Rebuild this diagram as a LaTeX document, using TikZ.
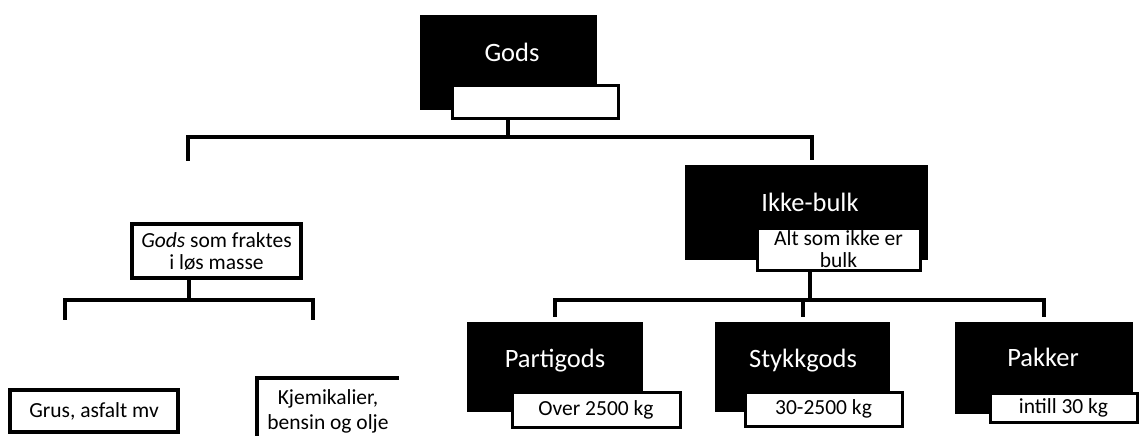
\documentclass[tikz,border=0pt]{standalone}
\usepackage{fontspec}
\setmainfont{Carlito}
\begin{document}
\begin{tikzpicture}[x=1pt,y=-1pt,
  conn/.style={line width=4pt, line cap=rect, line join=miter},
  blackbox/.style={fill=black, draw=none, inner sep=0pt},
  whitebox/.style={fill=white, draw=black, line width=3pt, inner sep=0pt, align=center, font=\fontsize{21.5}{22}\selectfont},
  bigtext/.style={text=white, inner sep=0pt, anchor=base, font=\fontsize{26.5}{28}\selectfont},
  plainbox/.style={draw=black, line width=3.5pt, inner sep=0pt, align=center, font=\fontsize{21.5}{22}\selectfont}
]
\useasboundingbox (0,0) rectangle (1145,436);
% top
\node[blackbox, minimum width=177pt, minimum height=95pt] (gods) at (508.5,62.5) {};
\node[bigtext] (godsT) at (512,62) {Gods};
\node[whitebox, minimum width=166pt, minimum height=33pt] (godsw) at (535,101.5) {};
% left branch
\node[plainbox, minimum width=169pt, minimum height=54pt] (loes) at (216.5,251) {\textit{Gods} som fraktes\\ i løs masse};
\node[plainbox, minimum width=168pt, minimum height=42pt] (grus) at (94,411) {Grus, asfalt mv};
\node[inner sep=0pt, align=center, font=\fontsize{21.5}{25}\selectfont] (kjem) at (328,411) {Kjemikalier,\\ bensin og olje};
\draw[line width=3.5pt] (257,445) |- (399,378);
% right branch
\node[blackbox, minimum width=243pt, minimum height=95pt] (ikke) at (806.5,212.5) {};
\node[bigtext] (ikkeT) at (810,211) {Ikke-bulk};
\node[whitebox, minimum width=163pt, minimum height=42pt] (ikkew) at (838.5,249) {Alt som ikke er\\ bulk};
% bottom row
\node[blackbox, minimum width=176pt, minimum height=90pt] (parti) at (555,367) {};
\node[bigtext] (partiT) at (555,367) {Partigods};
\node[whitebox, minimum width=168pt, minimum height=35pt] (partiw) at (596,409.5) {Over 2500 kg};
\node[blackbox, minimum width=175pt, minimum height=90pt] (stykk) at (802.5,367) {};
\node[bigtext] (stykkT) at (803,367) {Stykkgods};
\node[whitebox, minimum width=157pt, minimum height=34pt] (stykkw) at (823.5,409) {30-2500 kg};
\node[blackbox, minimum width=178pt, minimum height=92pt] (pakk) at (1044,368) {};
\node[bigtext] (pakkT) at (1043,366) {Pakker};
\node[whitebox, minimum width=147pt, minimum height=29pt] (pakkw) at (1063.5,407.5) {intill 30 kg};
% connectors top
\coordinate (tbar) at (508,137);
\coordinate (lend) at (188,159);
\coordinate (rend) at (812,158);
\draw[conn] (godsw.south -| tbar) -- (tbar);
\draw[conn] (lend) |- (tbar) -| (rend);
% connectors left
\coordinate (lbar) at (189,300);
\coordinate (g1) at (65,318);
\coordinate (k1) at (313,318);
\draw[conn] (loes.south -| lbar) -- (lbar);
\draw[conn] (g1) |- (lbar) -| (k1);
% connectors right
\coordinate (rbar) at (810,300);
\draw[conn] (ikkew.south -| rbar) -- (rbar);
\draw[conn] ([yshift=7pt]parti.north) |- (rbar) -| ([yshift=7pt]pakk.north);
\draw[conn] ([yshift=7pt]stykk.north) -- (stykk.north |- rbar);
\end{tikzpicture}
\end{document}
